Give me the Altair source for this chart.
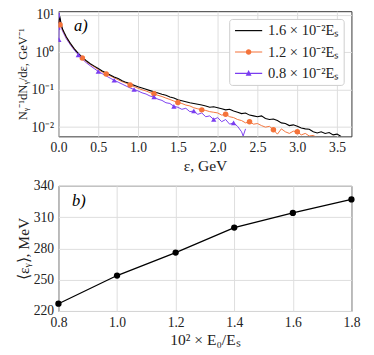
import altair as alt
import pandas as pd

SERIES = ["1.6 × 10⁻²Eₛ", "1.2 × 10⁻²Eₛ", "0.8 × 10⁻²Eₛ"]
COLORS = ["#000000", "#f4733a", "#7a3df0"]

# spectrum, E0 = 1.6e-2 Es
E_BLACK = [0.005, 0.01, 0.02, 0.03, 0.05, 0.075, 0.10, 0.15, 0.20, 0.25, 0.30, 0.35, 0.40, 0.45,
           0.50, 0.55, 0.60, 0.65, 0.70, 0.75, 0.80, 0.85, 0.90, 0.95, 1.00, 1.05, 1.10, 1.15,
           1.20, 1.25, 1.30, 1.35, 1.40, 1.45, 1.50, 1.55, 1.60, 1.65, 1.70, 1.75, 1.80, 1.85,
           1.90, 1.95, 2.00, 2.05, 2.10, 2.15, 2.20, 2.25, 2.30, 2.35, 2.40, 2.45, 2.50, 2.55,
           2.60, 2.65, 2.70, 2.75, 2.80, 2.85, 2.90, 2.95, 3.00, 3.05, 3.10, 3.15, 3.20, 3.25,
           3.30, 3.35, 3.40, 3.45, 3.50, 3.55]
V_BLACK = [6.0, 7.5, 8.5, 6.5, 4.3, 3.3, 2.6, 1.75, 1.25, 0.95, 0.74, 0.60, 0.50, 0.43,
           0.37, 0.32, 0.28, 0.25, 0.22, 0.20, 0.175, 0.158, 0.145, 0.132, 0.120, 0.112, 0.103, 0.095,
           0.088, 0.082, 0.076, 0.071, 0.064, 0.060, 0.054, 0.051, 0.048, 0.045, 0.043, 0.041, 0.039, 0.037,
           0.034, 0.035, 0.033, 0.031, 0.029, 0.030, 0.027, 0.025, 0.023, 0.024, 0.021, 0.020, 0.019, 0.020,
           0.017, 0.016, 0.0165, 0.015, 0.013, 0.0125, 0.011, 0.0115, 0.0105, 0.0095, 0.009, 0.0088, 0.0075, 0.007,
           0.0075, 0.0068, 0.0072, 0.0062, 0.0065, 0.0056]

# spectrum, E0 = 1.2e-2 Es
E_ORANGE = [0.005, 0.01, 0.02, 0.03, 0.05, 0.10, 0.15, 0.20, 0.25, 0.30, 0.35, 0.40, 0.45,
            0.50, 0.55, 0.60, 0.65, 0.70, 0.75, 0.80, 0.85, 0.90, 0.95, 1.00, 1.05, 1.10, 1.15,
            1.20, 1.25, 1.30, 1.35, 1.40, 1.45, 1.50, 1.55, 1.60, 1.65, 1.70, 1.75, 1.80, 1.85,
            1.90, 1.95, 2.00, 2.05, 2.10, 2.15, 2.20, 2.25, 2.30, 2.35, 2.40, 2.45, 2.50, 2.55,
            2.60, 2.65, 2.70, 2.75, 2.80, 2.85, 2.90, 2.95, 3.00, 3.05, 3.10, 3.15, 3.20, 3.25]
V_ORANGE = [4.5, 7.5, 5.5, 5.8, 4.1, 2.5, 1.7, 1.22, 0.93, 0.71, 0.57, 0.48, 0.41,
            0.35, 0.30, 0.265, 0.235, 0.21, 0.185, 0.165, 0.150, 0.135, 0.122, 0.110, 0.100, 0.093, 0.084,
            0.078, 0.071, 0.066, 0.060, 0.055, 0.050, 0.046, 0.043, 0.039, 0.037, 0.033, 0.031, 0.029, 0.028,
            0.026, 0.025, 0.024, 0.021, 0.022, 0.019, 0.018, 0.016, 0.015, 0.013, 0.014, 0.012, 0.0125, 0.011,
            0.010, 0.0105, 0.0085, 0.0065, 0.009, 0.0075, 0.0068, 0.0078, 0.0075, 0.0062, 0.0068, 0.0058, 0.006, 0.0052]
M_ORANGE = [0.02, 0.30, 0.60, 0.90, 1.20, 1.50, 1.80, 2.10, 2.40, 2.70, 3.00]

# spectrum, E0 = 0.8e-2 Es
E_PURPLE = [0.005, 0.01, 0.015, 0.02, 0.03, 0.05, 0.10, 0.15, 0.20, 0.25, 0.30, 0.35, 0.40, 0.45,
            0.50, 0.55, 0.60, 0.65, 0.70, 0.75, 0.80, 0.85, 0.90, 0.95, 1.00, 1.05, 1.10, 1.15,
            1.20, 1.25, 1.30, 1.35, 1.40, 1.45, 1.50, 1.55, 1.60, 1.65, 1.70, 1.75, 1.80, 1.85,
            1.90, 1.95, 2.00, 2.05, 2.10, 2.15, 2.20, 2.25, 2.30, 2.32, 2.35]
V_PURPLE = [2.2, 11.5, 4.0, 8.0, 5.5, 3.8, 2.3, 1.6, 1.15, 0.86, 0.66, 0.53, 0.44, 0.37,
            0.31, 0.27, 0.235, 0.205, 0.18, 0.16, 0.142, 0.126, 0.112, 0.102, 0.093, 0.083, 0.077, 0.068,
            0.064, 0.056, 0.052, 0.045, 0.043, 0.036, 0.034, 0.030, 0.032, 0.026, 0.027, 0.022, 0.024, 0.019,
            0.020, 0.016, 0.018, 0.014, 0.016, 0.012, 0.013, 0.0105, 0.0075, 0.0058, 0.009]
M_PURPLE = [0.005, 0.25, 0.50, 0.70, 0.95, 1.20, 1.45, 1.70, 1.95, 2.20]

# mean photon energy vs E0
E0_RATIO = [0.8, 1.0, 1.2, 1.4, 1.6, 1.8]
MEAN_EPS = [227, 254, 276, 300, 314, 327]

FONT = "Liberation Serif"

rows = []
for s, E, V in [(SERIES[0], E_BLACK, V_BLACK), (SERIES[1], E_ORANGE, V_ORANGE), (SERIES[2], E_PURPLE, V_PURPLE)]:
    for e, v in zip(E, V):
        rows.append({"series": s, "e": e, "v": v})
df = pd.DataFrame(rows)

def markers(s, E, V, M):
    d = dict(zip(E, V))
    return pd.DataFrame({"series": s, "e": M, "v": [d[m] for m in M]})

df_mo = markers(SERIES[1], E_ORANGE, V_ORANGE, M_ORANGE)
df_mp = markers(SERIES[2], E_PURPLE, V_PURPLE, M_PURPLE)

cscale = alt.Scale(domain=SERIES, range=COLORS)
LINE = "M-1.75,-0.075H1.75V0.075H-1.75Z"
CIRC = "M-0.36,0A0.36,0.36,0,1,1,0.36,0A0.36,0.36,0,1,1,-0.36,0Z"
TRI = "M0,-0.42L0.38,0.3H-0.38Z"
sscale = alt.Scale(domain=SERIES, range=[LINE, LINE + CIRC, LINE + TRI])

xs = alt.X("e:Q", scale=alt.Scale(domain=[0, 3.68], nice=False),
           axis=alt.Axis(values=[0, 0.5, 1, 1.5, 2, 2.5, 3, 3.5], format=".1f", title="ε, GeV",
                         titleY=35, titleBaseline="alphabetic", labelPadding=5))
ys = alt.Y("v:Q", scale=alt.Scale(type="log", domain=[0.00566, 12.7], nice=False),
           axis=alt.Axis(values=[0.01, 0.1, 1, 10], titleFontSize=13,
                         labelExpr="datum.value > 5 ? '10¹' : datum.value > 0.5 ? '10⁰' : datum.value > 0.05 ? '10⁻¹' : '10⁻²'",
                         title="Nᵧ⁻¹dNᵧ/dε, GeV⁻¹"))

leg = alt.Legend(title=None, orient="top-right", offset=8, symbolSize=256, symbolStrokeWidth=0,
                 symbolOpacity=1, labelFont=FONT, labelFontSize=15, labelColor="#222", padding=4,
                 rowPadding=6, labelOffset=12, symbolOffset=8, fillColor="white",
                 strokeColor="#cccccc", cornerRadius=3)

base = alt.Chart(df)
lines = []
for s, c, w in [(SERIES[2], COLORS[2], 1.0), (SERIES[1], COLORS[1], 1.0), (SERIES[0], COLORS[0], 1.1)]:
    lines.append(base.transform_filter(alt.datum.series == s)
                 .mark_line(strokeWidth=w, clip=True, color=c)
                 .encode(x=xs, y=ys))
pts_o = alt.Chart(df_mo).mark_point(filled=True, size=32, opacity=1, shape="circle", clip=True,
                                    color=COLORS[1]).encode(x=xs, y=ys)
pts_p = alt.Chart(df_mp).mark_point(filled=True, size=30, opacity=1, shape="triangle-up", clip=True,
                                    color=COLORS[2]).encode(x=xs, y=ys)
legend_layer = base.transform_filter("false").mark_point(filled=True, opacity=1).encode(
    x=xs, y=ys,
    color=alt.Color("series:N", scale=cscale, legend=leg),
    shape=alt.Shape("series:N", scale=sscale, legend=leg))
lab_a = alt.Chart(pd.DataFrame({"t": ["a)"]})).mark_text(
    font=FONT, fontSize=17, fontStyle="italic", align="center", baseline="middle").encode(
    text="t:N", x=alt.value(23), y=alt.value(15))

top = alt.layer(lines[0], lines[1], lines[2], pts_o, pts_p, legend_layer, lab_a).properties(
    width=302, height=129)

dfb = pd.DataFrame({"r": E0_RATIO, "m": MEAN_EPS})
xb = alt.X("r:Q", scale=alt.Scale(domain=[0.8, 1.8], nice=False),
           axis=alt.Axis(values=[0.8, 1.0, 1.2, 1.4, 1.6, 1.8], format=".1f", title="10² × E₀/Eₛ",
                         titleY=35, titleBaseline="alphabetic"))
yb = alt.Y("m:Q", scale=alt.Scale(domain=[220, 340], nice=False, zero=False),
           axis=alt.Axis(values=[220, 250, 280, 310, 340], title="⟨εᵧ⟩, MeV"))
bl = alt.Chart(dfb).mark_line(color="black", strokeWidth=1.3).encode(x=xb, y=yb)
bp = alt.Chart(dfb).mark_point(filled=True, color="black", size=42, opacity=1).encode(x=xb, y=yb)
lab_b = alt.Chart(pd.DataFrame({"t": ["b)"]})).mark_text(
    font=FONT, fontSize=17, fontStyle="italic", align="center", baseline="middle").encode(
    text="t:N", x=alt.value(21), y=alt.value(16))
bottom = alt.layer(bl, bp, lab_b).properties(width=302, height=129)

chart = alt.vconcat(top, bottom, spacing=4).properties(
    padding={"top": -6, "left": 7, "right": 5, "bottom": 0}
).configure_view(stroke="#333333", strokeWidth=1).configure_axis(
    labelFont=FONT, labelFontSize=14, labelColor="#222", titleFont=FONT, titleFontSize=16,
    titleColor="#222", titleFontWeight="normal", ticks=False, labelPadding=5, titlePadding=2,
    labelFlush=False, gridColor="#dddddd", gridWidth=1, domain=False)

chart.save("out.html", embed_options={"renderer": "svg", "actions": False})
